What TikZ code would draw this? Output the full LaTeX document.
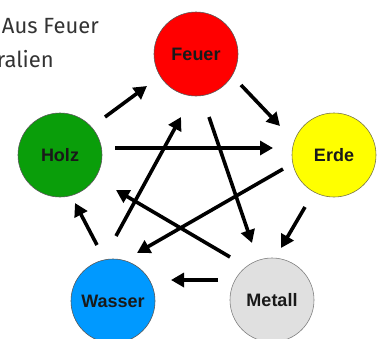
\documentclass[tikz,border=0pt]{standalone}
\usepackage{fontspec}
\setmainfont{Liberation Sans}
\newfontfamily\headfont{Fira Sans}
\usetikzlibrary{arrows.meta}
\definecolor{feuercol}{HTML}{FF0000}
\definecolor{holzcol}{HTML}{0A9E0A}
\definecolor{erdecol}{HTML}{FFFF00}
\definecolor{wassercol}{HTML}{0099FF}
\definecolor{metallcol}{HTML}{E0E0E0}
\definecolor{headgray}{HTML}{333333}
\begin{document}
\begin{tikzpicture}[x=1pt,y=-1pt,
  elem/.style={circle,draw=black!65,line width=0.6pt,minimum size=84pt,inner sep=0pt,
    font=\fontsize{18}{21}\selectfont\bfseries,text=black!90},
  arr/.style={line width=3.6pt,-{Triangle[length=13pt,width=14pt]}},
  head/.style={font=\headfont\fontsize{22}{26}\selectfont,text=headgray,inner sep=0pt}]
\useasboundingbox (0,0) rectangle (377,338);
\clip (0,0) rectangle (377,338);
\node[head,anchor=base east] (t1) at (99,33) {Aus Feuer};
\node[head,anchor=base east] (t2) at (54,67) {ralien};
\node[elem,fill=feuercol] (feuer) at (196,54) {Feuer};
\node[elem,fill=holzcol] (holz) at (60,155) {Holz};
\node[elem,fill=erdecol,draw=black!60!yellow] (erde) at (334,155) {Erde};
\node[elem,fill=wassercol] (wasser) at (113,301) {Wasser};
\node[elem,fill=metallcol,draw=black!50] (metall) at (272,300) {Metall};
% arrow end points
\coordinate (hf1) at (105,117); \coordinate (hf2) at (147,86);
\coordinate (fe1) at (241,85);  \coordinate (fe2) at (280,126);
\coordinate (he1) at (115,148); \coordinate (he2) at (273,148);
\coordinate (em1) at (305,207); \coordinate (em2) at (281,248);
\coordinate (mw1) at (218,280); \coordinate (mw2) at (171,280);
\coordinate (wh1) at (97,245);  \coordinate (wh2) at (75,203);
\coordinate (wf1) at (116,236); \coordinate (wf2) at (181,117);
\coordinate (fm1) at (209,117); \coordinate (fm2) at (252,243);
\coordinate (ew1) at (283,169); \coordinate (ew2) at (137,253);
\coordinate (mh1) at (230,257); \coordinate (mh2) at (116,190);
\draw[arr] (hf1) -- (hf2);
\draw[arr] (fe1) -- (fe2);
\draw[arr] (he1) -- (he2);
\draw[arr] (em1) -- (em2);
\draw[arr] (mw1) -- (mw2);
\draw[arr] (wh1) -- (wh2);
\draw[arr] (wf1) -- (wf2);
\draw[arr] (fm1) -- (fm2);
\draw[arr] (ew1) -- (ew2);
\draw[arr] (mh1) -- (mh2);
\end{tikzpicture}
\end{document}
